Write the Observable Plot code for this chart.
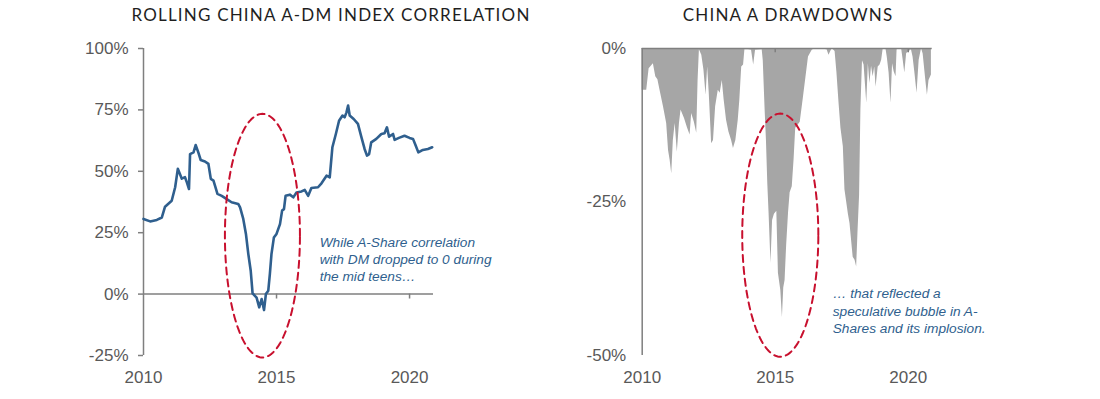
<!DOCTYPE html>
<html><head><meta charset="utf-8">
<script src="https://cdn.jsdelivr.net/npm/d3@7"></script>
<script src="https://cdn.jsdelivr.net/npm/@observablehq/plot@0.6"></script>
<style>
html,body{margin:0;padding:0;background:#fff;}
#wrap{position:relative;width:1100px;height:399px;overflow:hidden;}
.title{position:absolute;top:5px;line-height:20px;font-family:Lato,"Open Sans",sans-serif;font-size:17px;letter-spacing:1.2px;color:#1f1f1f;white-space:nowrap;transform:translateX(-50%);}
.panel{position:absolute;top:0;}
</style></head><body>
<div id="wrap">
<div class="title" style="left:331px">ROLLING CHINA A-DM INDEX CORRELATION</div>
<div class="title" style="left:788px">CHINA A DRAWDOWNS</div>
<div class="panel" id="left" style="left:0"></div>
<div class="panel" id="right" style="left:550px"></div>
</div>
<script>
// ---- data: rolling correlation (%) ----
const corrYears = [2010.0,2010.25,2010.5,2010.69,2010.81,2011.06,2011.19,2011.29,2011.44,2011.56,2011.63,2011.71,2011.75,2011.88,2011.96,2012.06,2012.15,2012.31,2012.44,2012.53,2012.63,2012.78,2012.94,2013.13,2013.31,2013.56,2013.63,2013.75,2013.85,2013.94,2014.03,2014.1,2014.25,2014.35,2014.44,2014.53,2014.6,2014.69,2014.75,2014.81,2014.9,2015.0,2015.13,2015.21,2015.28,2015.34,2015.5,2015.63,2015.75,2015.94,2016.06,2016.19,2016.31,2016.56,2016.69,2016.88,2017.0,2017.1,2017.23,2017.35,2017.48,2017.56,2017.63,2017.69,2017.75,2017.9,2018.06,2018.19,2018.31,2018.4,2018.48,2018.56,2018.75,2018.94,2019.06,2019.15,2019.23,2019.38,2019.44,2019.6,2019.81,2020.0,2020.13,2020.23,2020.33,2020.5,2020.69,2020.85];
const corrValues = [30.6,29.6,30.2,31.2,35.6,38,43.5,51,47,47.6,45.5,42.8,57,57.7,60.7,57.7,54.6,54,53,46.9,46.2,40.8,40,38.7,37.4,36.7,35.3,30.6,24.5,16.3,9.5,0.3,-1.4,-5.4,-2,-6.5,0,1.4,8.2,16.3,23,24.5,28.5,34,34.6,40,40.5,39.4,41.4,41.8,42.4,40,43.2,43.5,45.1,48.2,47.5,59.8,65.2,70.6,72.7,72,74,76.8,72.7,71.3,69.3,63.9,59.1,56.4,57,61.8,63.2,65.2,65.5,67.9,64.1,65.2,62.8,63.6,64.5,63.6,63.2,60.5,57.7,58.7,59.1,59.8];

// ---- data: China A drawdowns (%) ----
const ddYears = [2010.0,2010.17,2010.26,2010.42,2010.51,2010.59,2010.67,2010.8,2010.92,2010.99,2011.05,2011.11,2011.17,2011.24,2011.32,2011.4,2011.46,2011.59,2011.7,2011.8,2011.86,2011.96,2012.05,2012.1,2012.15,2012.24,2012.32,2012.4,2012.46,2012.52,2012.61,2012.68,2012.76,2012.86,2012.93,2013.01,2013.08,2013.17,2013.26,2013.36,2013.43,2013.52,2013.61,2013.67,2013.74,2013.81,2013.86,2013.99,2014.11,2014.19,2014.26,2014.51,2014.55,2014.62,2014.67,2014.72,2014.77,2014.84,2014.9,2014.97,2015.06,2015.12,2015.21,2015.27,2015.32,2015.37,2015.43,2015.5,2015.56,2015.64,2015.71,2015.77,2015.94,2016.06,2016.25,2016.39,2016.5,2016.95,2017.02,2017.14,2017.25,2017.32,2017.4,2017.47,2017.56,2017.62,2017.75,2017.81,2017.93,2018.0,2018.06,2018.11,2018.17,2018.22,2018.28,2018.34,2018.44,2018.5,2018.56,2018.62,2018.68,2018.74,2018.79,2018.87,2018.94,2019.0,2019.06,2019.16,2019.21,2019.28,2019.35,2019.41,2019.47,2019.54,2019.58,2019.75,2019.81,2019.87,2019.94,2020.12,2020.18,2020.25,2020.33,2020.41,2020.5,2020.56,2020.66,2020.72,2020.78,2020.87];
const ddValues = [-6.8,-6.8,-3.3,-2.5,-4.6,-5.1,-6.8,-9.5,-12.2,-16.6,-18.2,-20.4,-15,-12.2,-16.9,-12.2,-10,-11.4,-12.9,-14.1,-10.6,-12,-13.8,-5.2,-0.2,-1.1,-3.5,-7.6,-3,-7.3,-15.5,-15,-9.5,-6.8,-7.3,-5.2,-8.4,-11.7,-13.6,-15,-16.3,-15,-11.7,-8.4,-3,-2.7,-0.2,-0.2,-0.3,-2.7,-0.3,-0.2,-2,-10,-15,-22,-27,-35,-28,-27,-26.5,-36.6,-39.4,-43.8,-39,-37.8,-32,-26.8,-23.5,-22.5,-18,-13,-12,-8,-1.4,-0.3,0,-0.2,-1.1,0,-0.5,-4,-9,-13,-16,-23,-27,-28.5,-34,-34.5,-35.6,-30,-24,-10,-2,-2.7,-8.9,-2.5,-5.7,-2.9,-4.6,-3,-6.3,-3,-2.7,-1.9,0,0,-1.4,-4,-8.9,-2.5,-3.8,-4.6,-0.2,0,-1.9,-4,-0.8,-0.2,-1.4,-4,-7.3,-1.9,0,-0.9,-5.2,-7.6,-5.2,-4.3];

// ---- axes ----
const xDomain = [2010, 2020.9];
const yearTicks = [2010, 2015, 2020];
const innerYearTicks = [2015, 2020];
const corrTicks = [-25, 0, 25, 50, 75, 100];
const ddTicks = [0, -25, -50];

// ---- annotations ----
const leftOval = {x1: 2013.06, x2: 2015.88, y1: -25.8, y2: 73.4};
const rightOval = {x1: 2013.76, x2: 2016.62, y1: -50.2, y2: -10.6};
const leftNote = {x: 2016.62, y: 24.4, text: "While A-Share correlation\nwith DM dropped to 0 during\nthe mid teens…"};
const rightNote = {x: 2017.16, y: -38.7, text: "… that reflected a\nspeculative bubble in A-\nShares and its implosion."};

const lineColor = "#2f5f8e";
const areaColor = "#a6a6a6";
const axisColor = "#7f7f7f";
const ovalColor = "#c8102e";
const noteColor = "#2f5f8e";

const corr = corrYears.map((d, i) => ({year: d, value: corrValues[i]}));
const dd = ddYears.map((d, i) => ({year: d, value: ddValues[i]}));

function ovalPoints(o) {
  const cx = (o.x1 + o.x2) / 2, cy = (o.y1 + o.y2) / 2;
  const rx = (o.x2 - o.x1) / 2, ry = (o.y2 - o.y1) / 2;
  return d3.range(0, 360, 2).map(a => ({
    x: cx + rx * Math.cos(a * Math.PI / 180),
    y: cy + ry * Math.sin(a * Math.PI / 180)
  }));
}

const style = {fontFamily: "'Liberation Sans', Arial, sans-serif", fontSize: "17px", color: "#595959", background: "transparent", overflow: "visible"};

const left = Plot.plot({
  width: 550, height: 399,
  marginLeft: 143, marginRight: 117, marginTop: 48, marginBottom: 44,
  style,
  x: {domain: xDomain},
  y: {domain: [-25, 100]},
  marks: [
    Plot.axisY(corrTicks, {tickSize: 5, tickPadding: 10, tickFormat: d => d + "%", stroke: axisColor, strokeWidth: 1.5, label: null}),
    Plot.axisX(yearTicks, {tickSize: 0, tickPadding: 15, tickFormat: d => String(d), label: null}),
    Plot.ruleX([2010], {stroke: axisColor, strokeWidth: 1.5}),
    Plot.ruleY([0], {stroke: axisColor, strokeWidth: 1.5}),
    Plot.ruleX(innerYearTicks, {y1: 0, y2: -2, stroke: axisColor, strokeWidth: 1.5}),
    Plot.line(corr, {x: "year", y: "value", stroke: lineColor, strokeWidth: 2.6, strokeLinejoin: "round"}),
    Plot.line(ovalPoints(leftOval), {x: "x", y: "y", stroke: ovalColor, strokeWidth: 2, strokeDasharray: "7,5", curve: "linear-closed"}),
    Plot.text([leftNote], {x: "x", y: "y", text: "text", textAnchor: "start", lineAnchor: "top", lineHeight: 1.27, fontStyle: "italic", fontSize: 13.7, fill: noteColor})
  ]
});
document.getElementById("left").appendChild(left);

const right = Plot.plot({
  width: 550, height: 399,
  marginLeft: 91.7, marginRight: 168.3, marginTop: 48, marginBottom: 44,
  style,
  x: {domain: xDomain},
  y: {domain: [-50, 0]},
  marks: [
    Plot.areaY(dd, {x: "year", y: "value", fill: areaColor}),
    Plot.axisY(ddTicks, {tickSize: 0, tickPadding: 16, tickFormat: d => d + "%", label: null}),
    Plot.axisX(yearTicks, {tickSize: 0, tickPadding: 15, tickFormat: d => String(d), label: null}),
    Plot.ruleY([0], {stroke: axisColor, strokeWidth: 1.5}),
    Plot.ruleX([2010], {stroke: axisColor, strokeWidth: 1.5}),
    Plot.ruleX(innerYearTicks, {y1: 0, y2: -0.7, stroke: axisColor, strokeWidth: 1.5}),
    Plot.line(ovalPoints(rightOval), {x: "x", y: "y", stroke: ovalColor, strokeWidth: 2, strokeDasharray: "7,5", curve: "linear-closed"}),
    Plot.text([rightNote], {x: "x", y: "y", text: "text", textAnchor: "start", lineAnchor: "top", lineHeight: 1.27, fontStyle: "italic", fontSize: 13.7, fill: noteColor})
  ]
});
document.getElementById("right").appendChild(right);
</script>
</body></html>
